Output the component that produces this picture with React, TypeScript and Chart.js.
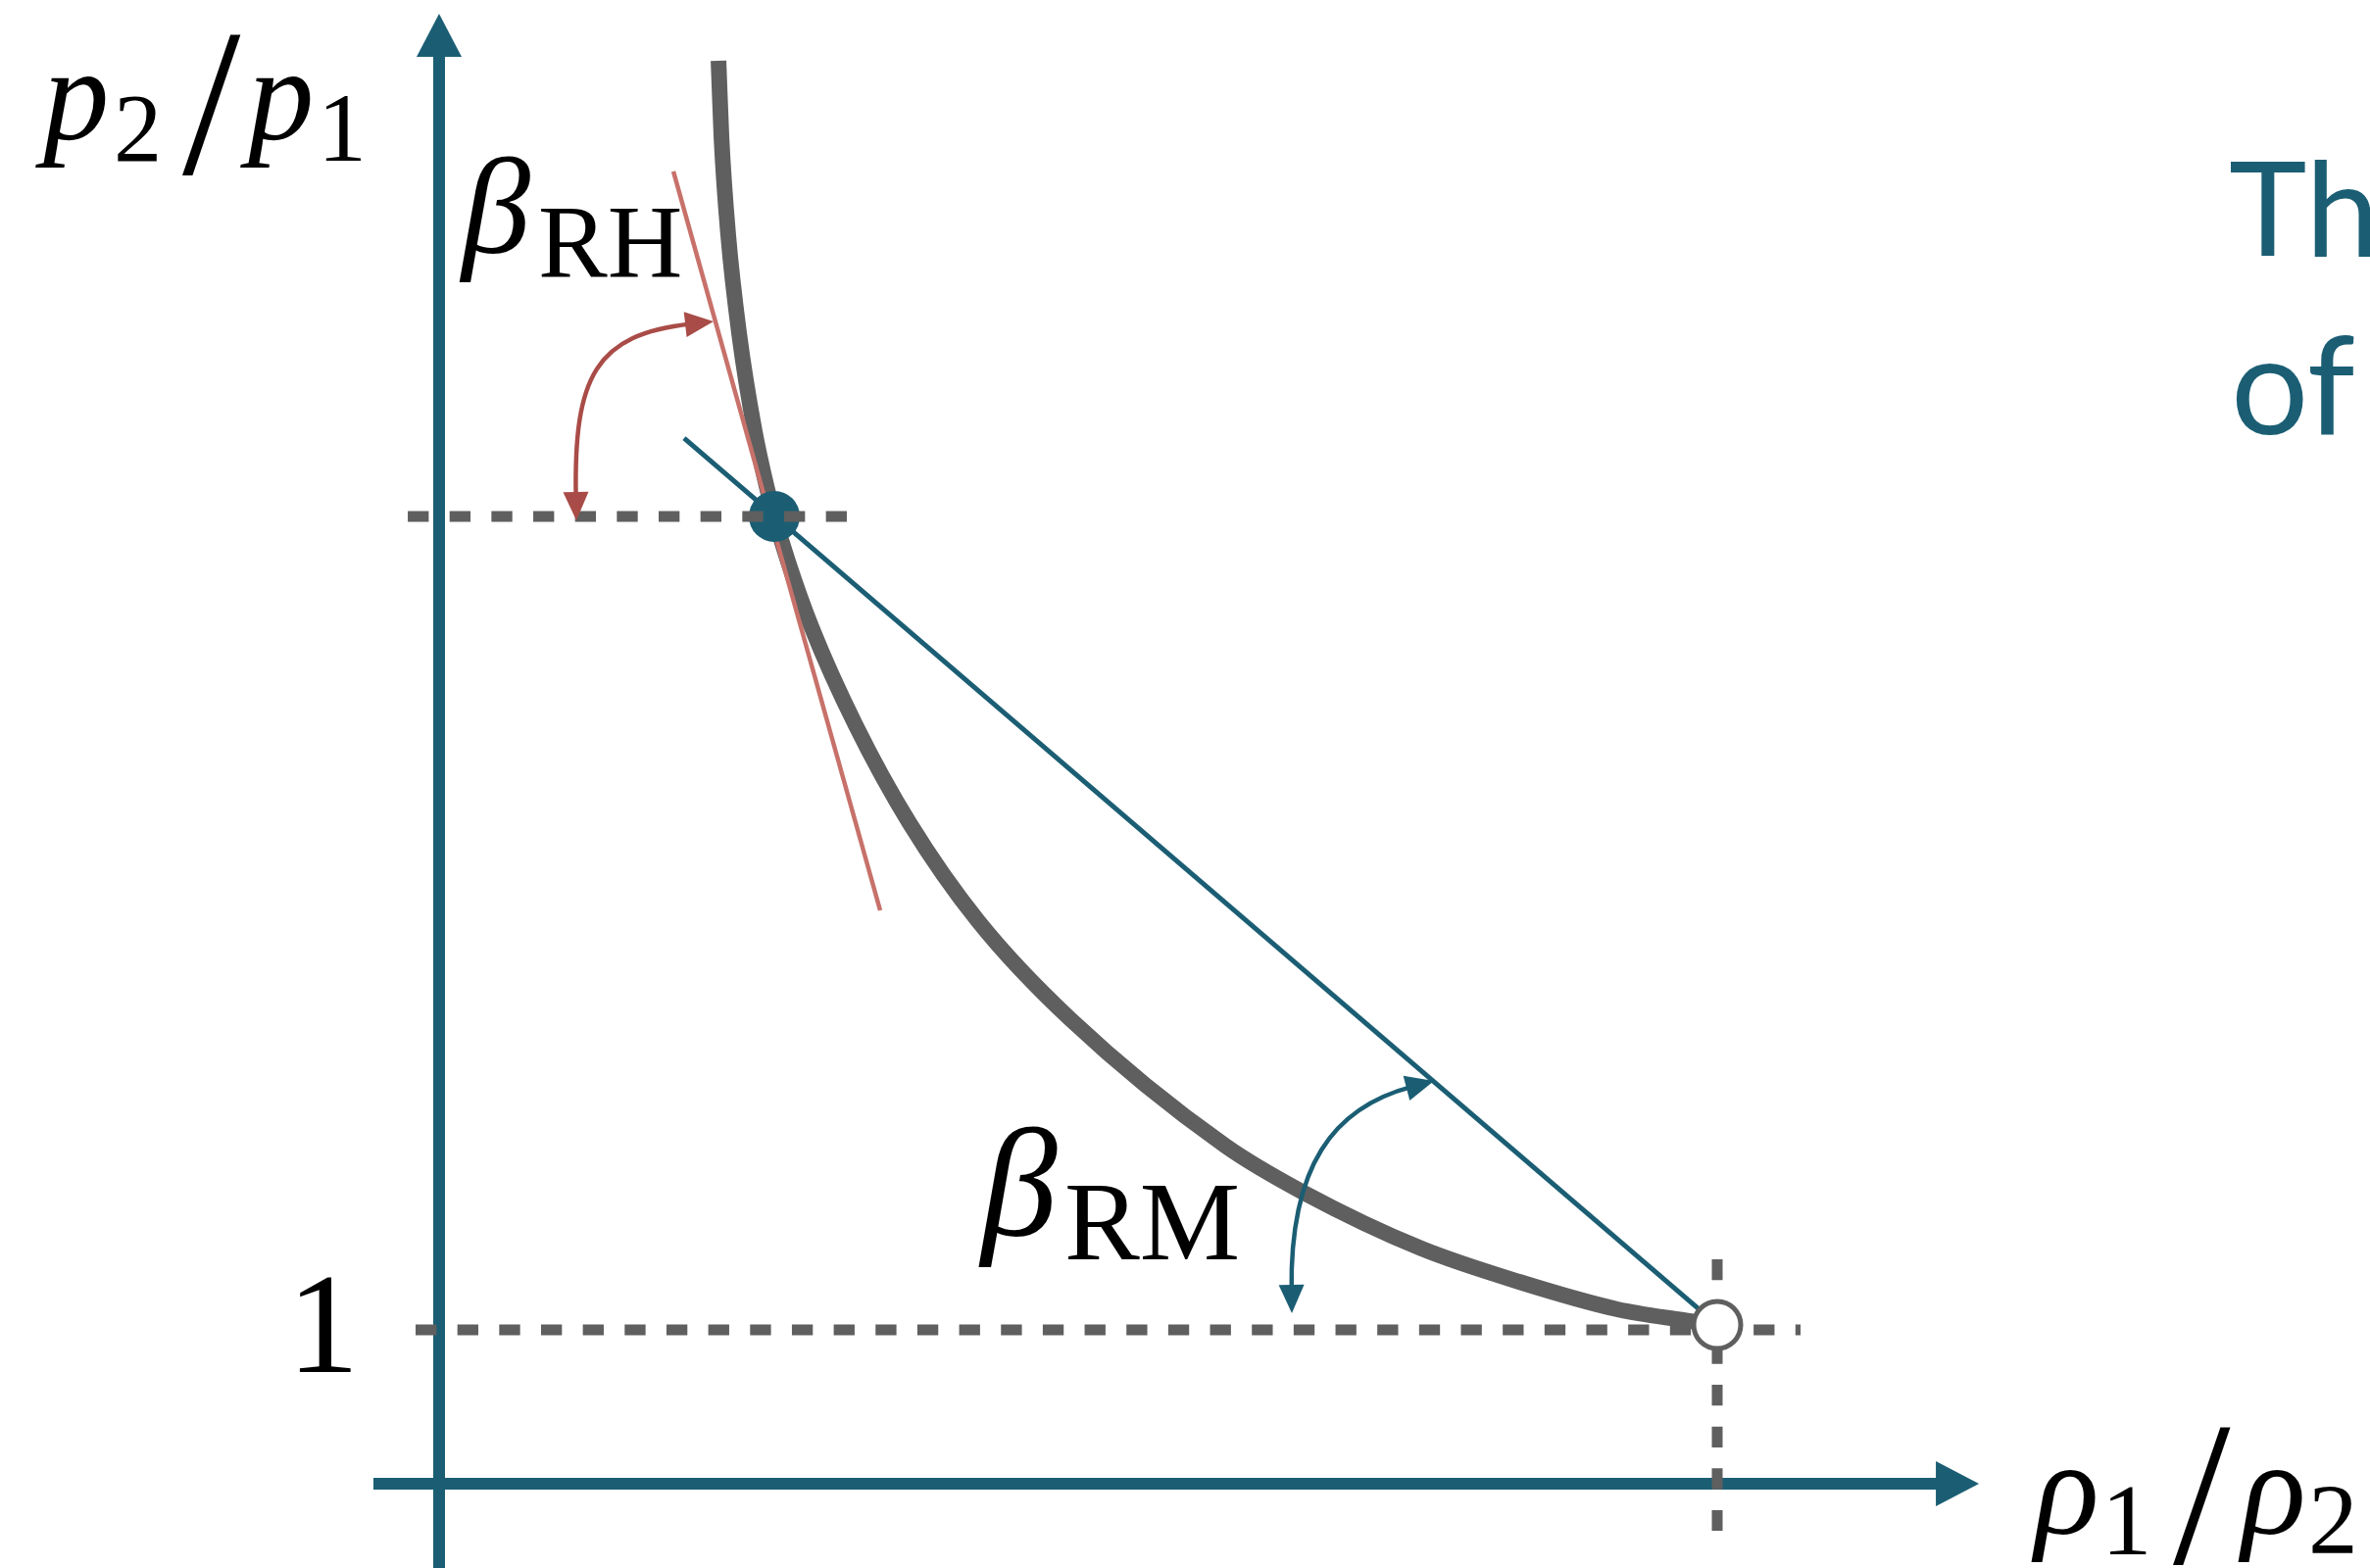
import React, { useEffect, useRef } from "react";
import { Chart, registerables } from "chart.js";

Chart.register(...registerables);

const W = 2418;
const H = 1600;

const TEAL = "#1b5e74";
const GREY = "#5f5f5f";
const TANGENT_RED = "#c7716a";
const ARC_RED = "#a94c47";

const SERIF = '"Liberation Serif", "Times New Roman", serif';
const SANS = 'Lato, "Open Sans", sans-serif';

// Visible window: rho1/rho2 horizontally, p2/p1 vertically
const X_MIN = -0.34356;
const X_MAX = 1.51074;
const Y_MIN = -0.54777;
const Y_MAX = 9.64331;

// Hugoniot curve (rho1/rho2 -> p2/p1)
const hugoniotRho = [
  0.2186, 0.2209, 0.2262, 0.2347, 0.2469, 0.2569, 0.2623, 0.273, 0.2914, 0.3259,
  0.3681, 0.4218, 0.4939, 0.615, 0.6764, 0.7684, 0.8451, 0.9218, 0.9732, 1.0,
];
const hugoniotP = [
  9.248, 8.752, 8.115, 7.478, 6.841, 6.459, 6.287, 5.994, 5.567, 4.93,
  4.293, 3.656, 3.019, 2.197, 1.892, 1.529, 1.312, 1.134, 1.064, 1.032,
];

// Upstream (initial) and shocked states
const initialRho = 1.0;
const initialP = 1.032;
const shockedRho = 0.2623;
const shockedP = 6.287;

// Rayleigh line joining both states
const rayleighRho = [0.1917, 1.0];
const rayleighP = [6.796, 1.032];

// Tangent to the Hugoniot at the shocked state
const tangentRho = [0.1833, 0.3451];
const tangentP = [8.529, 3.726];

// Dashed guide lines
const shockedGuideRho = [-0.0245, 0.319];
const unitGuideRho = [-0.0184, 1.0652];
const unitLevel = 1;
const initialGuideP = [1.4586, -0.3057];

// Axis extents (tip positions of the arrows)
const xAxisRho = [-0.0514, 1.2048];
const yAxisP = [Y_MIN, 9.554];

// Angle markers as cubic Bezier control points (data units)
const betaRHArc = [
  [0.1074, 6.261],
  [0.1052, 7.2],
  [0.1225, 7.47],
  [0.2147, 7.554],
];
const betaRMArc = [
  [0.6672, 1.108],
  [0.6656, 2.064],
  [0.6994, 2.446],
  [0.7784, 2.618],
];

const DASH = [21.33, 21.33];

const pts = (xs: number[], ys: number[]) => xs.map((v, i) => ({ x: v, y: ys[i] }));

function fitText(
  ctx: CanvasRenderingContext2D,
  text: string,
  style: string,
  family: string,
  left: number,
  top: number,
  height: number,
  color: string
) {
  ctx.font = `${style} 100px ${family}`;
  const m = ctx.measureText(text);
  const inkH = m.actualBoundingBoxAscent + m.actualBoundingBoxDescent;
  const size = (100 * height) / inkH;
  ctx.font = `${style} ${size.toFixed(2)}px ${family}`;
  const m2 = ctx.measureText(text);
  ctx.fillStyle = color;
  ctx.textAlign = "left";
  ctx.textBaseline = "alphabetic";
  ctx.fillText(text, left + m2.actualBoundingBoxLeft, top + m2.actualBoundingBoxAscent);
}

function arrowHead(
  ctx: CanvasRenderingContext2D,
  tipX: number,
  tipY: number,
  ux: number,
  uy: number,
  len: number,
  halfW: number
) {
  // u points from the tip back along the shaft
  const bx = tipX + ux * len;
  const by = tipY + uy * len;
  const px = -uy;
  const py = ux;
  ctx.beginPath();
  ctx.moveTo(tipX, tipY);
  ctx.lineTo(bx + px * halfW, by + py * halfW);
  ctx.lineTo(bx - px * halfW, by - py * halfW);
  ctx.closePath();
  ctx.fill();
}

function drawArc(chart: any, arc: number[][], color: string) {
  const { ctx } = chart;
  const xs = chart.scales.x;
  const ys = chart.scales.y;
  const p = arc.map(([a, b]) => [xs.getPixelForValue(a), ys.getPixelForValue(b)]);
  const len = 29;
  const half = 13;
  const d0x = p[1][0] - p[0][0];
  const d0y = p[1][1] - p[0][1];
  const n0 = Math.hypot(d0x, d0y);
  const u0 = [d0x / n0, d0y / n0];
  const d3x = p[2][0] - p[3][0];
  const d3y = p[2][1] - p[3][1];
  const n3 = Math.hypot(d3x, d3y);
  const u3 = [d3x / n3, d3y / n3];
  ctx.save();
  ctx.strokeStyle = color;
  ctx.fillStyle = color;
  ctx.lineWidth = 4.5;
  ctx.beginPath();
  ctx.moveTo(p[0][0] + u0[0] * len * 0.8, p[0][1] + u0[1] * len * 0.8);
  ctx.bezierCurveTo(
    p[1][0], p[1][1],
    p[2][0], p[2][1],
    p[3][0] + u3[0] * len * 0.8, p[3][1] + u3[1] * len * 0.8
  );
  ctx.stroke();
  arrowHead(ctx, p[0][0], p[0][1], u0[0], u0[1], len, half);
  arrowHead(ctx, p[3][0], p[3][1], u3[0], u3[1], len, half);
  ctx.restore();
}

const diagramPlugin = {
  id: "hugoniotDiagram",
  beforeDatasetsDraw(chart: any) {
    const { ctx } = chart;
    const xs = chart.scales.x;
    const ys = chart.scales.y;
    ctx.save();
    ctx.strokeStyle = TEAL;
    ctx.fillStyle = TEAL;
    ctx.lineCap = "butt";

    // horizontal axis with arrow
    const y0 = ys.getPixelForValue(0);
    const xStart = xs.getPixelForValue(xAxisRho[0]);
    const xTip = xs.getPixelForValue(xAxisRho[1]);
    ctx.lineWidth = 12;
    ctx.beginPath();
    ctx.moveTo(xStart, y0);
    ctx.lineTo(xTip - 40, y0);
    ctx.stroke();
    arrowHead(ctx, xTip, y0, -1, 0, 44, 23);

    // vertical axis with arrow
    const x0 = xs.getPixelForValue(0);
    const yStart = ys.getPixelForValue(yAxisP[0]);
    const yTip = ys.getPixelForValue(yAxisP[1]);
    ctx.lineWidth = 12;
    ctx.beginPath();
    ctx.moveTo(x0, yStart);
    ctx.lineTo(x0, yTip + 40);
    ctx.stroke();
    arrowHead(ctx, x0, yTip, 0, 1, 44, 23);
    ctx.restore();
  },
  afterDatasetsDraw(chart: any) {
    drawArc(chart, betaRHArc, ARC_RED);
    drawArc(chart, betaRMArc, TEAL);
  },
  afterDraw(chart: any) {
    const { ctx } = chart;
    const ys = chart.scales.y;
    ctx.save();
    const K = "#000000";
    // vertical axis title p2/p1
    fitText(ctx, "p", "italic", SERIF, 36, 78, 93, K);
    fitText(ctx, "2", "normal", SERIF, 120, 98, 66, K);
    fitText(ctx, "/", "normal", SERIF, 186, 35, 143, K);
    fitText(ctx, "p", "italic", SERIF, 245, 78, 93, K);
    fitText(ctx, "1", "normal", SERIF, 332, 98, 66, K);
    // horizontal axis title rho1/rho2
    fitText(ctx, "ρ", "italic", SERIF, 2072, 1500, 93, K);
    fitText(ctx, "1", "normal", SERIF, 2153, 1517, 68, K);
    fitText(ctx, "/", "normal", SERIF, 2217, 1456, 141, K);
    fitText(ctx, "ρ", "italic", SERIF, 2283, 1500, 93, K);
    fitText(ctx, "2", "normal", SERIF, 2359, 1517, 68, K);
    // unit tick label
    fitText(ctx, "1", "normal", SERIF, 305, ys.getPixelForValue(unitLevel) - 54, 97, K);
    // angle labels
    fitText(ctx, "β", "italic", SERIF, 468, 159, 128, K);
    fitText(ctx, "RH", "normal", SERIF, 552, 213, 70, K);
    fitText(ctx, "β", "italic", SERIF, 998, 1149, 142, K);
    fitText(ctx, "RM", "normal", SERIF, 1089, 1209, 76, K);
    // side caption
    fitText(ctx, "The", "normal", SANS, 2276, 163, 101, TEAL);
    fitText(ctx, "of", "normal", SANS, 2281, 342, 105, TEAL);
    ctx.restore();
  },
};

export default function App() {
  const ref = useRef<HTMLCanvasElement | null>(null);

  useEffect(() => {
    const canvas = ref.current;
    if (!canvas) return;
    const lineBase = {
      pointRadius: 0,
      pointHoverRadius: 0,
      fill: false,
      tension: 0,
    };
    const chart = new Chart(canvas, {
      type: "line",
      data: {
        datasets: [
          {
            ...lineBase,
            label: "p2/p1 = 1",
            data: unitGuideRho.map((r) => ({ x: r, y: unitLevel })),
            borderColor: GREY,
            borderWidth: 11,
            borderDash: DASH,
            order: 9,
          },
          {
            ...lineBase,
            label: "rho1/rho2 = 1",
            data: initialGuideP.map((p) => ({ x: initialRho, y: p })),
            borderColor: GREY,
            borderWidth: 11,
            borderDash: DASH,
            order: 9,
          },
          {
            ...lineBase,
            label: "Hugoniot",
            data: pts(hugoniotRho, hugoniotP),
            borderColor: GREY,
            borderWidth: 16,
            cubicInterpolationMode: "monotone",
            order: 8,
          },
          {
            ...lineBase,
            label: "tangent",
            data: pts(tangentRho, tangentP),
            borderColor: TANGENT_RED,
            borderWidth: 4.5,
            order: 7,
          },
          {
            ...lineBase,
            label: "Rayleigh line",
            data: pts(rayleighRho, rayleighP),
            borderColor: TEAL,
            borderWidth: 5,
            order: 6,
          },
          {
            label: "shocked state",
            data: [{ x: shockedRho, y: shockedP }],
            showLine: false,
            pointRadius: 26,
            pointHoverRadius: 26,
            pointBackgroundColor: TEAL,
            pointBorderColor: TEAL,
            pointBorderWidth: 0,
            order: 5,
          },
          {
            ...lineBase,
            label: "shocked level",
            data: shockedGuideRho.map((r) => ({ x: r, y: shockedP })),
            borderColor: GREY,
            borderWidth: 11,
            borderDash: DASH,
            order: 4,
          },
          {
            label: "initial state",
            data: [{ x: initialRho, y: initialP }],
            showLine: false,
            pointRadius: 24,
            pointHoverRadius: 24,
            pointBackgroundColor: "#ffffff",
            pointBorderColor: GREY,
            pointBorderWidth: 5,
            order: 3,
          },
        ],
      },
      options: {
        animation: false,
        responsive: false,
        devicePixelRatio: 1,
        events: [],
        layout: { padding: 0, autoPadding: false },
        plugins: {
          legend: { display: false },
          tooltip: { enabled: false },
        },
        scales: {
          x: { type: "linear", min: X_MIN, max: X_MAX, display: false },
          y: { type: "linear", min: Y_MIN, max: Y_MAX, display: false },
        },
      },
      plugins: [diagramPlugin],
    } as any);
    return () => chart.destroy();
  }, []);

  return (
    <div
      style={{
        position: "fixed",
        left: 0,
        top: 0,
        width: W,
        height: H,
        background: "#ffffff",
      }}
    >
      <canvas ref={ref} width={W} height={H} style={{ width: W, height: H, display: "block" }} />
    </div>
  );
}
